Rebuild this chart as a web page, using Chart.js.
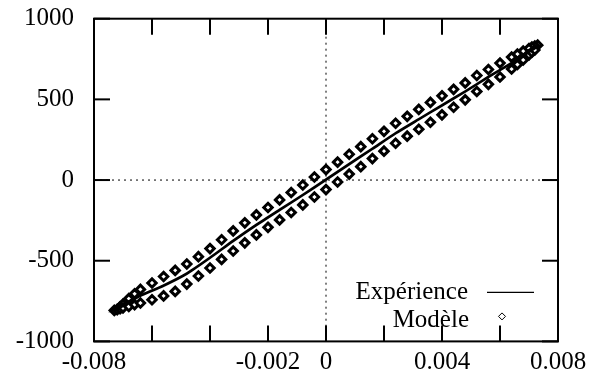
<!DOCTYPE html>
<html>
<head>
<meta charset="utf-8">
<script src="https://cdn.jsdelivr.net/npm/chart.js@4.4.1/dist/chart.umd.min.js"></script>
<style>
  html, body { margin: 0; padding: 0; background: #fff; }
</style>
</head>
<body>
<canvas id="loopChart" width="591" height="385"></canvas>
<script>
// measured loop (strain, stress), unloading branch then reloading branch
const expDownX = [0.00735, 0.0072, 0.0068, 0.0064, 0.0056, 0.0048, 0.0040, 0.0032, 0.0024, 0.0016, 0.0008, 0, -0.0008, -0.0016, -0.0024, -0.0032, -0.0040, -0.0048, -0.0056, -0.0064, -0.0068, -0.0072, -0.00735];
const expDownY = [836, 822, 776, 729, 643, 553, 467, 381, 294, 198, 103, 7, -89, -181, -274, -373, -478, -576, -650, -712, -750, -795, -810];
const expUpX = [-0.00735, -0.0072, -0.0068, -0.0064, -0.0056, -0.0048, -0.0040, -0.0032, -0.0024, -0.0016, -0.0008, 0, 0.0008, 0.0016, 0.0024, 0.0032, 0.0040, 0.0048, 0.0056, 0.0064, 0.0068, 0.0072, 0.00735];
const expUpY = [-810, -805, -760, -720, -658, -584, -486, -381, -282, -189, -97, -1, 95, 190, 286, 373, 459, 545, 635, 721, 768, 813, 836];

// model: descending branch
const modDownX = [0.0073, 0.0072, 0.0071, 0.0070, 0.0068, 0.0066, 0.0064, 0.0060, 0.0056, 0.0052, 0.0048, 0.0044, 0.0040, 0.0036, 0.0032, 0.0028, 0.0024, 0.0020, 0.0016, 0.0012, 0.0008, 0.0004, 0, -0.0004, -0.0008, -0.0012, -0.0016, -0.0020, -0.0024, -0.0028, -0.0032, -0.0036, -0.0040, -0.0044, -0.0048, -0.0052, -0.0056, -0.0060, -0.0064, -0.0066, -0.0068, -0.0070, -0.0071, -0.0072];
const modDownY = [836, 830, 824, 815, 799, 781, 762, 725, 685, 648, 602, 562, 522, 481, 438, 395, 352, 302, 256, 207, 160, 111, 65, 19, -31, -77, -123, -170, -216, -265, -315, -370, -425, -475, -520, -560, -598, -638, -678, -705, -735, -768, -785, -802];
// model: ascending branch
const modUpX = [-0.0073, -0.0072, -0.0071, -0.0070, -0.0068, -0.0066, -0.0064, -0.0060, -0.0056, -0.0052, -0.0048, -0.0044, -0.0040, -0.0036, -0.0032, -0.0028, -0.0024, -0.0020, -0.0016, -0.0012, -0.0008, -0.0004, 0, 0.0004, 0.0008, 0.0012, 0.0016, 0.0020, 0.0024, 0.0028, 0.0032, 0.0036, 0.0040, 0.0044, 0.0048, 0.0052, 0.0056, 0.0060, 0.0064, 0.0066, 0.0068, 0.0070, 0.0071, 0.0072];
const modUpY = [-808, -802, -797, -792, -784, -772, -762, -742, -718, -690, -645, -595, -545, -492, -440, -389, -340, -293, -247, -201, -154, -105, -59, -12, 37, 83, 133, 179, 228, 272, 315, 358, 404, 451, 497, 549, 593, 639, 688, 716, 744, 776, 792, 806];

const xLabelled = [-0.008, -0.002, 0, 0.004, 0.008];
const yTicks = [-1000, -500, 0, 500, 1000];

const serif = 'Liberation Serif, Times New Roman, serif';

function toPoints(xs, ys) {
  return xs.map((x, i) => ({ x: x, y: ys[i] }));
}

const expPoints = toPoints(expDownX, expDownY).concat(toPoints(expUpX, expUpY));
const modPoints = toPoints(modDownX, modDownY).concat(toPoints(modUpX, modUpY));

function segment(ctx, x1, y1, x2, y2) {
  ctx.beginPath();
  ctx.moveTo(x1, y1);
  ctx.lineTo(x2, y2);
  ctx.stroke();
}

// frame with inward ticks on all sides, dotted axes through zero, legend
const framePlugin = {
  id: 'frame',
  beforeDatasetsDraw(chart) {
    const { ctx, chartArea: a, scales: { x, y } } = chart;
    const x0 = x.getPixelForValue(0);
    const y0 = y.getPixelForValue(0);
    ctx.save();
    ctx.strokeStyle = '#000';
    ctx.lineWidth = 1;
    ctx.setLineDash([2, 4]);
    segment(ctx, x0, a.top, x0, a.bottom);
    segment(ctx, a.left, y0, a.right, y0);
    ctx.restore();
  },
  afterDraw(chart) {
    const { ctx, chartArea: a, scales: { x, y } } = chart;
    const len = 16;
    ctx.save();
    ctx.setLineDash([]);
    ctx.strokeStyle = '#000';
    ctx.lineWidth = 2;
    ctx.strokeRect(a.left, a.top, a.width, a.height);
    for (const t of x.ticks) {
      const px = x.getPixelForValue(t.value);
      segment(ctx, px, a.bottom, px, a.bottom - len);
      segment(ctx, px, a.top, px, a.top + len);
    }
    for (const t of y.ticks) {
      const py = y.getPixelForValue(t.value);
      segment(ctx, a.left, py, a.left + len, py);
      segment(ctx, a.right, py, a.right - len, py);
    }

    // legend, bottom right inside the frame
    const ds = chart.data.datasets;
    const textRight = a.right - 90;
    const row1 = a.bottom - 49;
    const row2 = a.bottom - 21;
    ctx.fillStyle = '#000';
    ctx.font = '25px ' + serif;
    ctx.textAlign = 'right';
    ctx.textBaseline = 'middle';
    ctx.fillText(ds[0].label, textRight, row1);
    ctx.fillText(ds[1].label, textRight + 1, row2);
    ctx.lineWidth = 1.3;
    segment(ctx, textRight + 19, row1, textRight + 66, row1);
    ctx.lineWidth = 1;
    const cx = textRight + 34, cy = row2 - 4, r = 3.5;
    ctx.beginPath();
    ctx.moveTo(cx, cy - r);
    ctx.lineTo(cx + r, cy);
    ctx.lineTo(cx, cy + r);
    ctx.lineTo(cx - r, cy);
    ctx.closePath();
    ctx.stroke();
    ctx.restore();
  }
};

new Chart(document.getElementById('loopChart').getContext('2d'), {
  type: 'scatter',
  data: {
    datasets: [{
      label: 'Expérience',
      data: expPoints,
      showLine: true,
      borderColor: '#000',
      borderWidth: 1.6,
      tension: 0.2,
      pointRadius: 0
    }, {
      label: 'Modèle',
      data: modPoints,
      showLine: false,
      pointStyle: 'rectRot',
      pointRadius: 4.2,
      pointBorderColor: '#000',
      pointBackgroundColor: '#fff',
      pointBorderWidth: 3
    }]
  },
  options: {
    responsive: false,
    animation: false,
    layout: { padding: { top: 18.7, right: 33, left: 0, bottom: 0 } },
    plugins: {
      legend: { display: false },
      tooltip: { enabled: false }
    },
    scales: {
      x: {
        type: 'linear',
        min: -0.008,
        max: 0.008,
        // tick marks are drawn by the frame plugin; tickLength only offsets the labels
        grid: { display: false, drawTicks: true, tickLength: 6 },
        border: { display: false },
        ticks: {
          stepSize: 0.002,
          autoSkip: false,
          maxRotation: 0,
          padding: 0,
          color: '#000',
          font: { family: serif, size: 25 },
          callback(v) {
            const r = Math.round(v * 1000) / 1000;
            return xLabelled.includes(r) ? String(r) : '';
          }
        },
        afterFit(s) { s.height = 43.6; }
      },
      y: {
        type: 'linear',
        min: -1000,
        max: 1000,
        grid: { display: false, drawTicks: true, tickLength: 20 },
        border: { display: false },
        afterBuildTicks(s) { s.ticks = yTicks.map(v => ({ value: v })); },
        ticks: {
          padding: 0,
          color: '#000',
          font: { family: serif, size: 25 },
          callback(v) { return String(v); }
        },
        afterFit(s) { s.width = 94; }
      }
    }
  },
  plugins: [framePlugin]
});
</script>
</body>
</html>
